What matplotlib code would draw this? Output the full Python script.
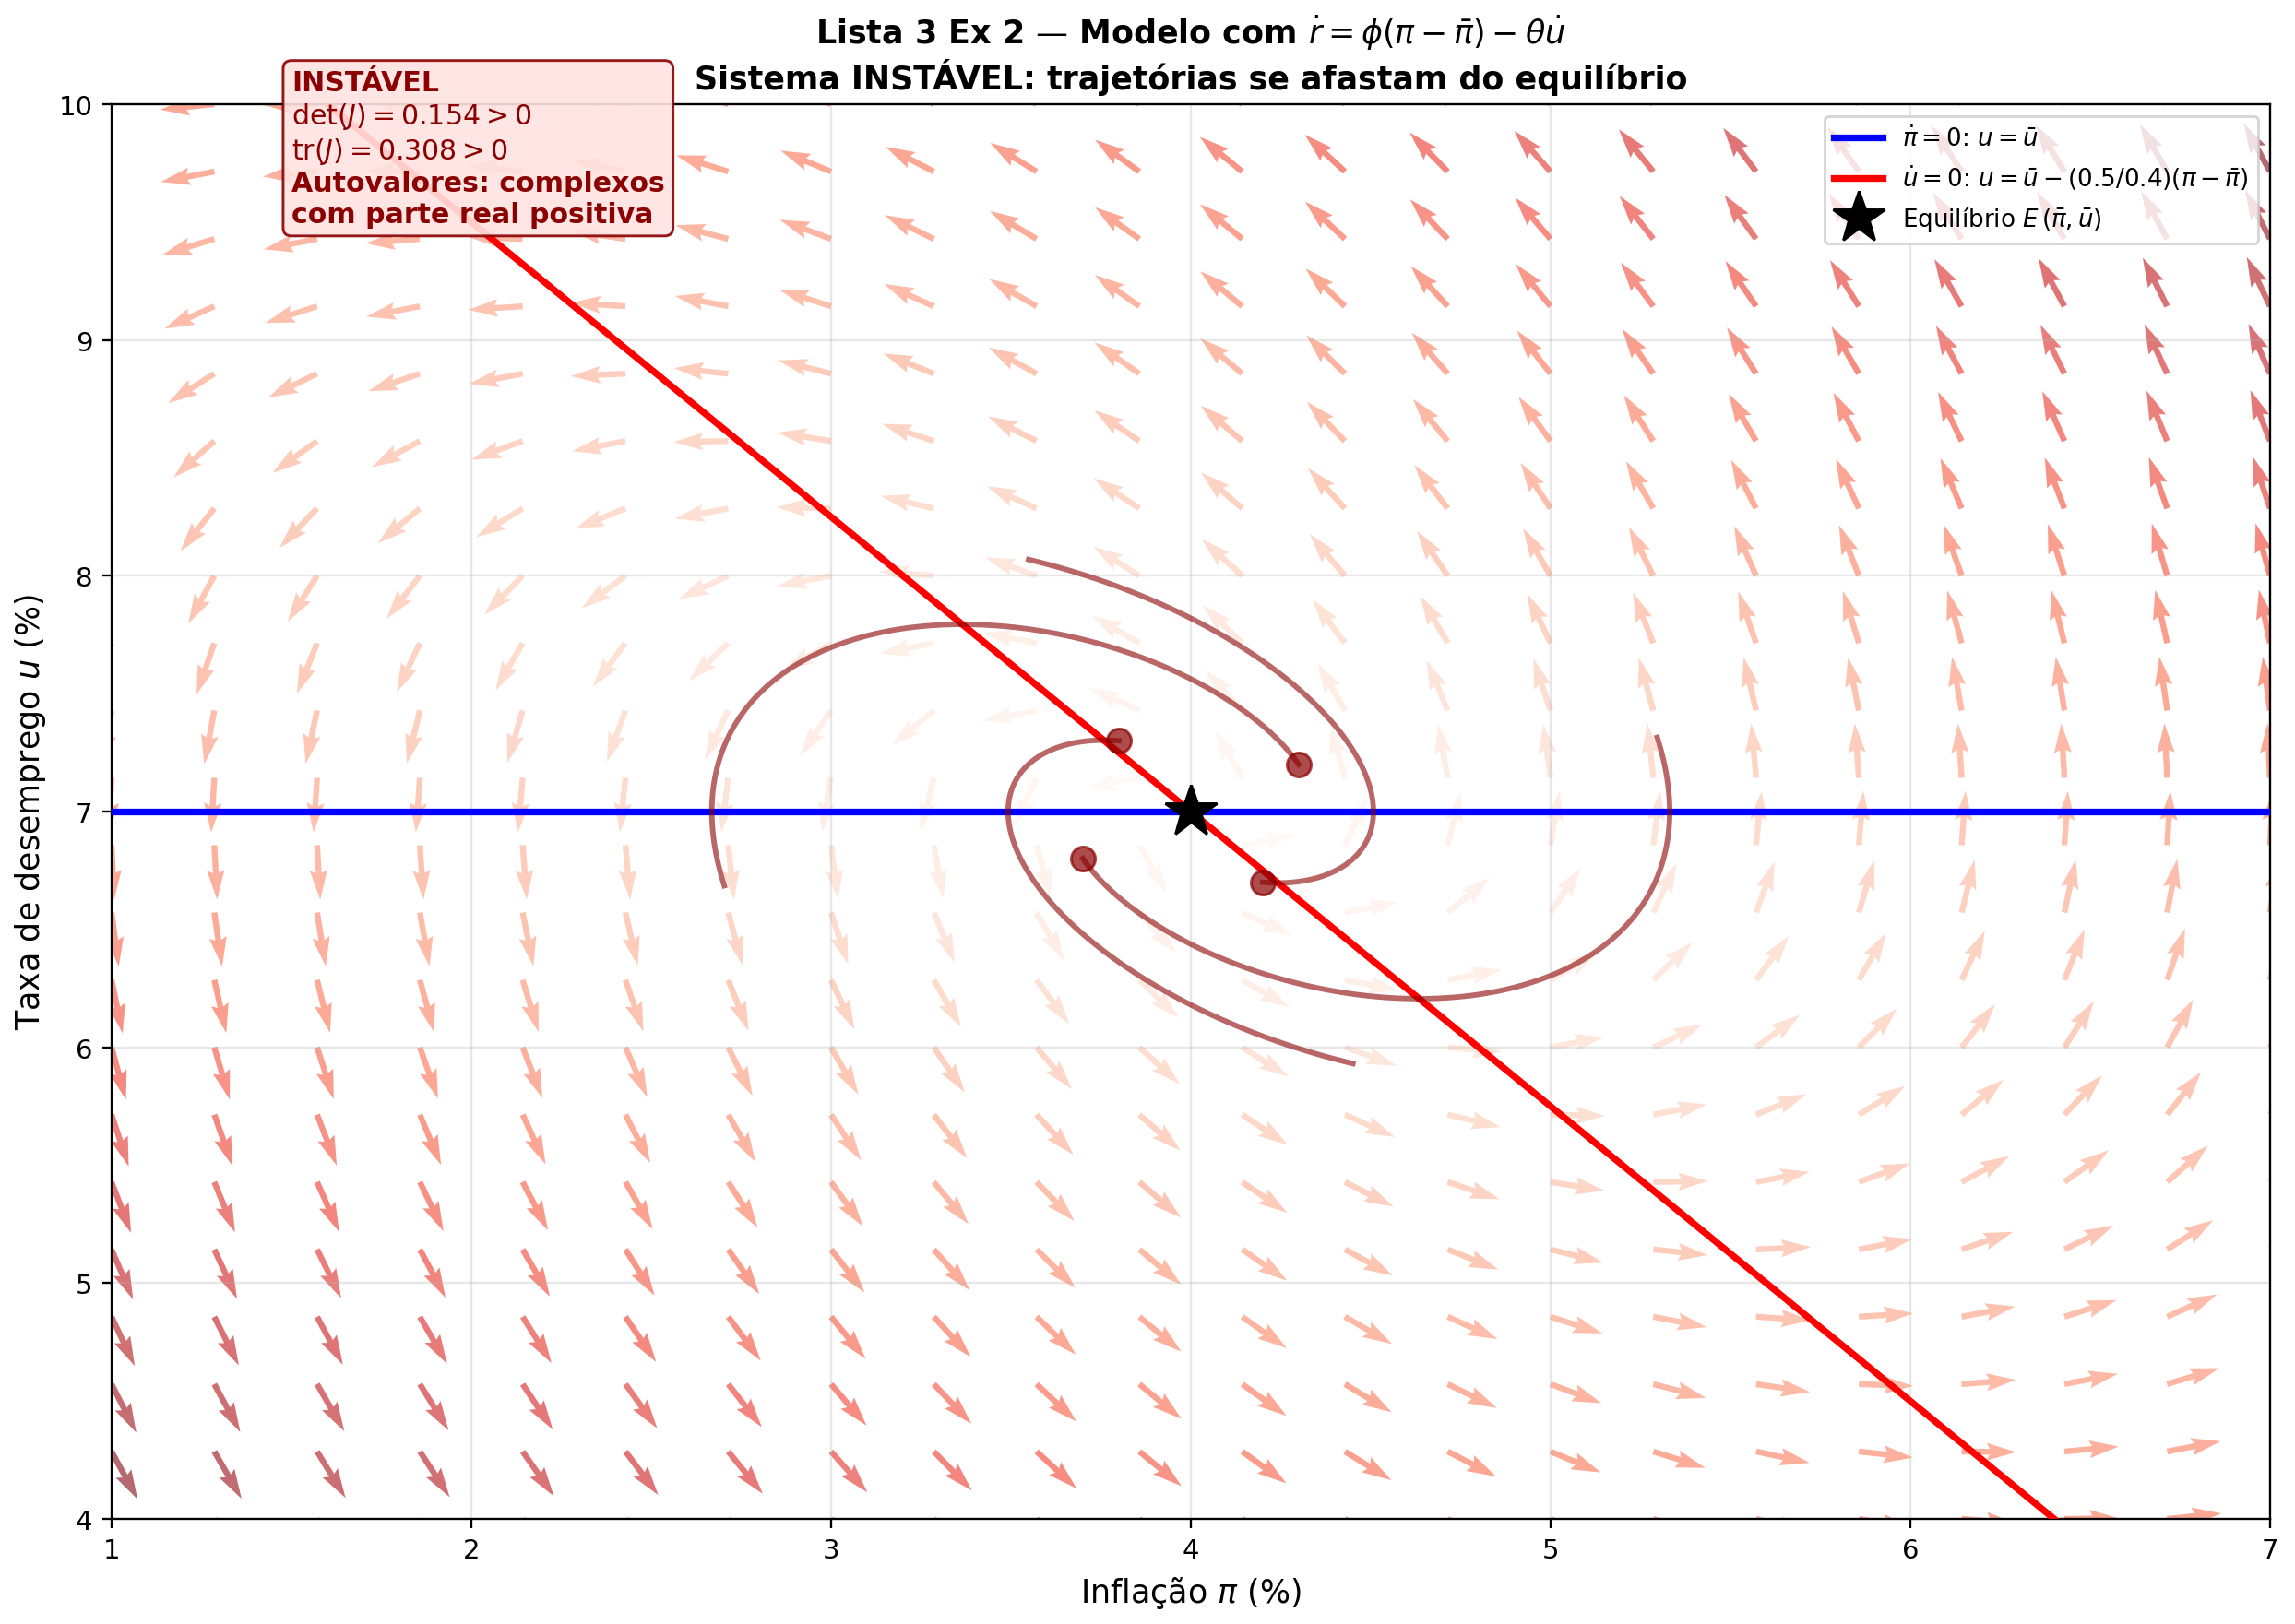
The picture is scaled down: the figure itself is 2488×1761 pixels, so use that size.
import numpy as np
import matplotlib.pyplot as plt

# Parametros do modelo
pi_bar = 4.0
u_bar = 7.0
beta = 0.4        # pi_dot = -beta*(u - u_bar)
gamma = 0.77      # u_dot = gamma*(0.5*(pi - pi_bar) + 0.4*(u - u_bar))
coef_pi = 0.5
coef_u = 0.4
det_J = 0.154
tr_J = 0.308

# Condicoes iniciais das trajetorias
starts_pi = [4.3, 3.8, 3.7, 4.2]
starts_u = [7.2, 7.3, 6.8, 6.7]
t_final = 8.0

pi_grid = np.linspace(1, 7, 22)
u_grid = np.linspace(4, 10, 22)


def campo(p, u):
    dp = -beta * (u - u_bar)
    du = gamma * (coef_pi * (p - pi_bar) + coef_u * (u - u_bar))
    return dp, du


def trajetoria(p0, u0, T, n=800):
    dt = T / n
    ps, us = [p0], [u0]
    p, u = p0, u0
    for _ in range(n):
        k1 = campo(p, u)
        k2 = campo(p + dt / 2 * k1[0], u + dt / 2 * k1[1])
        k3 = campo(p + dt / 2 * k2[0], u + dt / 2 * k2[1])
        k4 = campo(p + dt * k3[0], u + dt * k3[1])
        p += dt / 6 * (k1[0] + 2 * k2[0] + 2 * k3[0] + k4[0])
        u += dt / 6 * (k1[1] + 2 * k2[1] + 2 * k3[1] + k4[1])
        ps.append(p)
        us.append(u)
    return np.array(ps), np.array(us)


DPI = 2488 / 11.88
fig = plt.figure(figsize=(11.88, 1762 / DPI), dpi=DPI)
ax = fig.add_axes([0.0486, 0.0647, 0.9405, 0.8706])

# Campo vetorial
P, U = np.meshgrid(pi_grid, u_grid)
dP, dU = campo(P, U)
M = np.hypot(dP, dU)
ax.quiver(P, U, dP / M, dU / M, M, cmap='Reds', alpha=0.6, zorder=1)

# Isoclinas
x_line = np.linspace(1, 7, 200)
ax.plot(x_line, np.full_like(x_line, u_bar), color='blue', lw=2.5,
        label=r'$\dot{\pi} = 0$: $u = \bar{u}$', zorder=3)
ax.plot(x_line, u_bar - (coef_pi / coef_u) * (x_line - pi_bar), color='red', lw=2.5,
        label=r'$\dot{u} = 0$: $u = \bar{u} - (0.5/0.4)(\pi - \bar{\pi})$', zorder=3)

# Trajetorias
for p0, u0 in zip(starts_pi, starts_u):
    tp, tu = trajetoria(p0, u0, t_final)
    ax.plot(tp, tu, color='darkred', lw=2, alpha=0.6, zorder=4)
    ax.plot(p0, u0, 'o', color='darkred', ms=9, alpha=0.7, zorder=5)

ax.plot(pi_bar, u_bar, '*', color='black', ms=20, zorder=6,
        label=r'Equilíbrio $E\,(\bar{\pi}, \bar{u})$')

info = ('INSTÁVEL\n'
        + r'$\det(J) = %.3f > 0$' % det_J + '\n'
        + r'$\mathrm{tr}(J) = %.3f > 0$' % tr_J + '\n'
        + 'Autovalores: complexos\ncom parte real positiva')
ax.text(1.5, 10.15, info, fontsize=10.3, fontweight='bold', color='darkred',
        va='top', ha='left', zorder=10,
        bbox=dict(boxstyle='round', facecolor='mistyrose', edgecolor='darkred', alpha=0.9))

ax.set_xlim(1, 7)
ax.set_ylim(4, 10)
ax.set_xlabel(r'Inflação $\pi$ (%)', fontsize=12)
ax.set_ylabel(r'Taxa de desemprego $u$ (%)', fontsize=12)
ax.set_title('Lista 3 Ex 2 — Modelo com $\\dot{r} = \\phi(\\pi - \\bar{\\pi}) - \\theta\\dot{u}$\n'
             'Sistema INSTÁVEL: trajetórias se afastam do equilíbrio',
             fontsize=12, fontweight='bold')
ax.legend(loc='upper right', fontsize=9)
ax.grid(True, alpha=0.3)

fig.savefig('out.png', dpi=DPI)
